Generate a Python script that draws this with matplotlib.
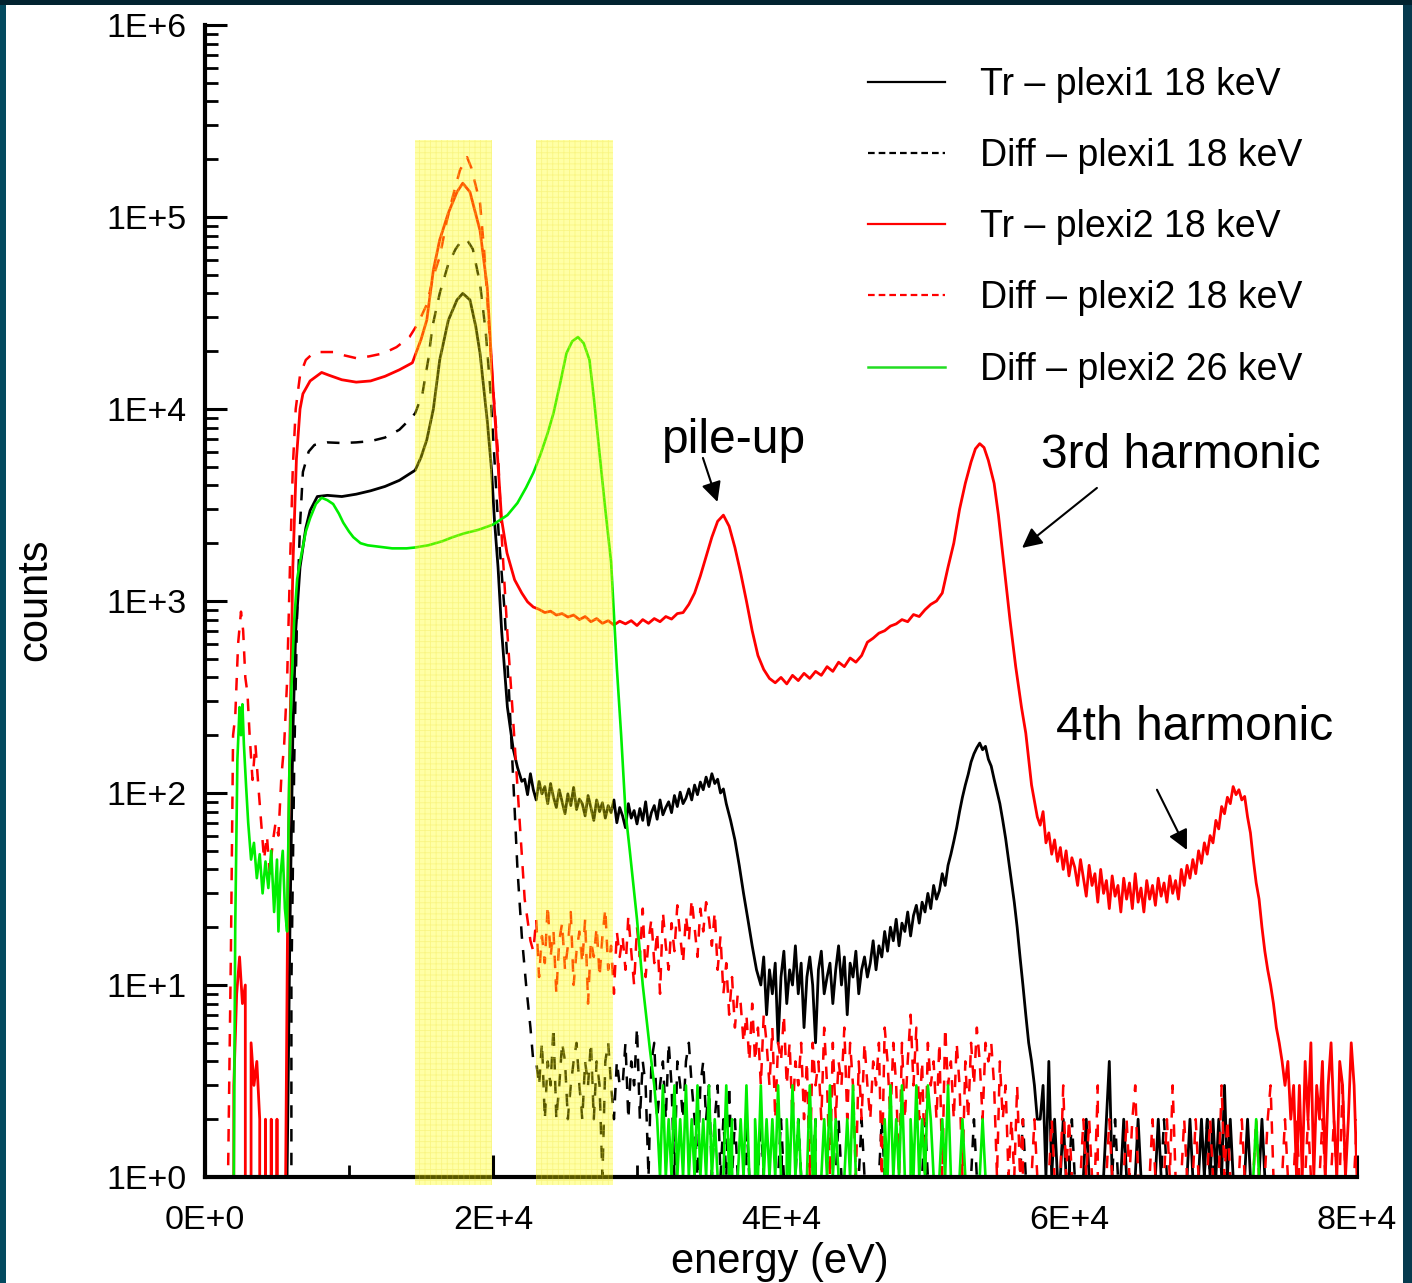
import numpy as np
import matplotlib
matplotlib.use("Agg")
import matplotlib.pyplot as plt
from matplotlib.lines import Line2D
from matplotlib.patches import Rectangle
from matplotlib.ticker import FixedLocator, FuncFormatter, LogLocator, NullFormatter

# ------------------------------------------------------------------
# Data (energy in keV, counts per channel)
# ------------------------------------------------------------------
# Tr - plexi1 18 keV (black solid)
tr1_peak_kev = [0.0, 5.6, 5.7, 5.9, 6.1, 6.3, 6.6, 7.0, 7.3, 7.8, 8.5, 9.5, 10.5, 11.5, 12.5,
                13.5, 14.6, 15.0, 15.4, 15.86, 16.3, 16.9, 17.5, 17.9, 18.4, 18.8, 19.1, 19.6,
                19.9, 20.1, 20.35, 20.6, 21.0, 21.4, 21.7, 22.0]
tr1_peak_cnt = [0, 0, 1, 20, 200, 700, 1500, 2400, 2960, 3500, 3550, 3500, 3600, 3750, 3950,
                4250, 4800, 5600, 6900, 10000, 18000, 29000, 37000, 40000, 37000, 27000, 19500, 8700,
                4800, 2650, 1500, 700, 280, 170, 136, 115]
tr1_flat_cnt = [118, 98, 126, 104, 92, 115, 99, 108, 88, 112,
                95, 84, 104, 90, 78, 99, 86, 107, 82, 93,
                88, 76, 97, 84, 72, 92, 80, 89, 74, 86,
                79, 92, 70, 84, 76, 66, 88, 74, 81, 69,
                83, 72, 90, 68, 79, 86, 73, 92, 77, 84,
                90, 79, 97, 85, 101, 88, 94, 105, 92, 110,
                98, 114, 104, 121, 108, 126, 112, 118, 100, 105]          # 22.2 .. 36.0 keV
tr1_drop_kev = [36.2, 36.5, 36.8, 37.1, 37.4, 37.7, 38.0, 38.3, 38.6]
tr1_drop_cnt = [88, 72, 57, 42, 30, 22, 16, 12, 10]
tr1_valley_cnt = [14, 7, 12, 9, 13, 5, 11, 15, 8, 12, 10, 16, 9, 13, 6, 11, 14, 10, 5, 12,
                  15, 9, 11, 13, 8, 12, 16, 10, 14, 7, 13, 11, 15, 9, 12, 14, 11]   # 38.8 .. 46.0
tr1_h3_cnt = [13, 17, 12, 16, 14, 19, 15, 20, 17, 22, 16, 21, 19, 24, 18, 23, 26, 21, 27, 24,
              30, 25, 33, 28, 31, 38, 33, 42, 48, 56, 66, 80, 95, 110, 125, 145, 160, 172, 182, 168,
              175, 150, 138, 118, 102, 88, 72, 58, 45, 35, 27, 20, 14, 10, 7, 5, 4, 3, 2]  # 46.2 .. 57.8
tr1_tail = ("2314121121" "1011112110" "1112411112" "1101211111" "1211101111" "1121112121"
            "2121312111" "1121111211" "1101111011" "1111011111" "11011111101")      # 58.0 .. 80.0

# Diff - plexi1 18 keV (black dashed)
dif1_peak_kev = [0.0, 5.8, 6.0, 6.2, 6.4, 6.6, 6.8, 7.2, 7.6, 8.5, 9.5, 10.5, 11.5, 12.5, 13.5,
                 14.0, 14.6, 15.1, 15.5, 15.8, 16.3, 16.9, 17.4, 17.8, 18.2, 18.6, 19.1, 19.5, 19.8,
                 20.1, 20.4, 20.8, 21.1, 21.4, 21.7, 22.0, 22.3, 22.6, 22.8]
dif1_peak_cnt = [0, 0, 10, 150, 900, 2500, 4700, 6000, 6500, 6700, 6650, 6700, 6800, 7100, 7800,
                 8500, 9500, 12000, 18000, 27000, 40000, 57000, 68000, 75000, 76000, 68000, 45000, 25000, 13000,
                 5500, 2200, 900, 350, 120, 40, 18, 10, 6, 4]
dif1_tail = ("4352436235" "4234532435" "2431453243" "3524362431" "4523425314" "3245321342"
             "3123121312" "1"
             "1021101211" "1011210111" "2101112011" "1101211101" "1121011012" "1011101111"
             "0111211011" "1101111011" "1210111011" "1111011121" "0111101111" "1011121011"
             "1101110111" "2111011101" "1111011211" "1011110111" "1121101111" "0111101111"
             "1101111011" "1111101111" "1011111011" "11111")                           # 23.0 .. 80.0

# Tr - plexi2 18 keV (red solid)
tr2_low_cnt = [0, 0, 0, 3, 9, 14, 8, 10, 0, 5, 3, 4, 2, 0, 2, 0, 2, 0, 2, 0, 0]          # 1.4 .. 5.4
tr2_peak_kev = [5.6, 5.75, 5.9, 6.1, 6.35, 6.6, 6.8, 7.3, 8.1, 8.6, 9.5, 10.5, 11.5, 12.5, 13.5,
                14.4, 15.0, 15.4, 15.86, 16.3, 16.9, 17.5, 17.9, 18.4, 19.1, 19.6, 19.8, 20.0,
                20.3, 20.6, 20.97, 21.5]
tr2_peak_cnt = [1, 30, 200, 1500, 5500, 10000, 12000, 14000, 15500, 15000, 14200, 13800, 14000, 14800, 16000,
                17400, 23000, 29000, 53000, 76000, 105000, 135000, 150000, 135000, 85000, 43000, 23700, 13000,
                5900, 2650, 1780, 1290]
tr2_mid_cnt = [1100, 990, 930, 905, 870, 885, 845, 860, 825, 845,
               800, 830, 780, 810, 765, 790, 750, 785, 760, 790,
               745, 800, 765, 810, 780, 830, 805, 860, 870, 960,
               1100, 1350, 1700, 2150, 2600, 2800, 2450, 1900, 1400, 1000,
               700, 520, 440, 395, 375, 400, 370, 410, 385, 420,
               395, 430, 410, 455, 430, 480, 455, 505, 480, 520,
               610, 640, 680, 700, 740, 760, 800, 780, 850, 830,
               900, 960, 1000, 1100, 1500, 2000, 3000]                                  # 22.0 .. 52.4, 0.4 step
tr2_h3_kev = [52.8, 53.2, 53.5, 53.8, 54.1, 54.4, 54.8, 55.1, 55.5, 55.9, 56.3, 56.7, 57.0, 57.4]
tr2_h3_cnt = [4100, 5300, 6200, 6600, 6300, 5400, 4100, 2800, 1500, 800, 455, 280, 205, 110]
tr2_tail_cnt = [75, 68, 80, 55, 62, 48, 57, 44, 52, 40,
                50, 37, 46, 41, 33, 45, 36, 29, 42, 33,
                38, 27, 40, 30, 35, 25, 37, 29, 33, 24,
                36, 28, 34, 25, 38, 27, 32, 24, 35, 28,
                33, 26, 36, 29, 34, 27, 37, 30, 35, 28,
                40, 33, 42, 36, 45, 38, 50, 43, 55, 48,
                60, 55, 72, 65, 85, 78, 95, 88, 108, 98,
                104, 92, 96, 75, 62, 45, 34, 28, 20, 15,
                12, 10, 8, 6, 5, 4, 3, 4, 2, 3,
                1, 3, 1, 4, 2, 5, 1, 3, 2, 4,
                1, 3, 5, 2, 1, 4, 3, 1, 2, 5, 3, 1]                                     # 57.8 .. 80.0

# Diff - plexi2 18 keV (red dashed)
dif2_peak_kev = [1.4, 1.6, 1.8, 1.95, 2.1, 2.3, 2.5, 2.65, 2.8, 2.95, 3.1, 3.3, 3.5, 3.7, 3.9,
                 4.1, 4.3, 4.5, 4.7, 4.9, 5.1, 5.3, 5.5, 5.7, 5.9, 6.1, 6.3, 6.6, 7.0, 7.5,
                 8.0, 8.9, 9.7, 10.5, 11.4, 12.4, 13.3, 14.2, 14.8, 15.4, 15.86, 16.3, 16.8, 17.2,
                 17.7, 18.2, 18.5, 19.1, 19.4, 19.6, 20.0, 20.35, 20.6, 21.0, 21.4, 21.9, 22.2, 22.6]
dif2_peak_cnt = [0, 1, 15, 200, 250, 600, 880, 700, 400, 330, 200, 117, 180, 110, 70,
                 45, 60, 38, 55, 70, 60, 120, 180, 380, 1500, 5000, 10000, 15000, 18000, 19500,
                 19800, 19800, 19000, 18400, 18800, 19500, 21000, 23700, 28000, 35000, 49000, 62000, 96000, 127000,
                 175000, 205000, 180000, 118000, 65000, 37000, 13000, 5900, 2200, 680, 240, 62, 28, 17]
dif2_band_cnt = [15, 22, 11, 18, 13, 26, 14, 19, 9, 17, 21, 12, 16, 24, 10, 15, 19, 13, 22, 8,
                 17, 14, 20, 11, 18, 25, 12, 16, 9, 19, 14,
                 18, 12, 23, 15, 10, 20, 14, 25, 11, 17, 22, 13, 19, 9, 24, 16, 12, 21, 15,
                 26, 18, 13, 23, 17, 28, 20, 14, 25, 19, 27, 22, 16, 24, 12, 18, 9, 13, 7, 11, 6, 9]  # 22.8 .. 37.0
dif2_tail = ("85748463753625473524"
             "3524153426315243625314253"
             "24351642531524736241534251634253142"
             "5364254531423121312011210"
             "1012111312" "1011212113" "0112111012" "1231011121" "0112131012" "1112110121"
             "1131210112" "1101211123" "1011210121" "1121011210" "1211310112")          # 37.2 .. 80.0

# Diff - plexi2 26 keV (green solid)
g26_peak_kev = [1.8, 2.0, 2.1, 2.25, 2.4, 2.5, 2.6, 2.7, 2.85, 3.0, 3.2, 3.4, 3.6, 3.8, 4.0,
                4.2, 4.4, 4.6, 4.8, 5.0, 5.1, 5.25, 5.4, 5.55, 5.7, 5.85, 6.0, 6.2, 6.4, 6.6,
                7.0, 7.3, 7.7, 8.1, 8.5, 8.9, 9.3, 9.6, 10.0, 10.3, 10.8, 11.3, 12.0, 13.0, 14.0,
                14.6, 15.5, 16.5, 17.2, 18.0, 19.0, 20.0, 21.0, 21.7, 22.3, 22.8, 23.3, 23.8, 24.2,
                24.7, 25.1, 25.5, 25.9, 26.3, 26.7, 27.0, 27.4, 27.8, 28.2, 28.6, 28.9, 29.2, 29.5,
                30.0, 30.4, 30.9]
g26_peak_cnt = [0, 1, 20, 150, 280, 200, 290, 180, 110, 70, 45, 55, 36, 48, 30,
                44, 32, 50, 24, 45, 19, 38, 50, 25, 19, 120, 350, 800, 1300, 1600,
                2300, 2700, 3200, 3450, 3350, 3200, 2850, 2560, 2300, 2150, 2000, 1950, 1920, 1880, 1880,
                1900, 1950, 2050, 2150, 2250, 2350, 2500, 2800, 3240, 3900, 4650, 5800, 7500, 9500,
                14000, 19500, 22500, 23700, 22000, 18000, 11500, 5900, 3000, 1600, 450, 200, 80, 50,
                22, 10, 4.6]
g26_tail = ("3213121312" "1312131213" "1210131201" "2131021312" "1213102131" "2101312012"
            "1312101213" "1011101110" "2131213102" "1312132101" "2131011211" "1011210111"
            "0111011110" "1101111011" "1110111101" "1111011111" "0111111011" "1111101111"
            "1011111101" "1111111011" "1110111112" "1111011111" "1111111011" "1111111111"
            "11111")                                                                      # 31.2 .. 80.0

legend_labels = ["Tr \u2013 plexi1 18 keV", "Diff \u2013 plexi1 18 keV", "Tr \u2013 plexi2 18 keV",
                 "Diff \u2013 plexi2 18 keV", "Diff \u2013 plexi2 26 keV"]
bands_kev = [(14.6, 19.9), (23.0, 28.3)]


def run(start, step, values):
    return [start + step * i for i in range(len(values))], list(values)


def digits(s):
    return [int(ch) for ch in s]


def join(*parts):
    e, c = [], []
    for pe, pc in parts:
        e += list(pe)
        c += list(pc)
    return np.array(e) * 1000.0, np.array(c, dtype=float)


tr1 = join((tr1_peak_kev, tr1_peak_cnt), run(22.2, 0.2, tr1_flat_cnt), (tr1_drop_kev, tr1_drop_cnt),
           run(38.8, 0.2, tr1_valley_cnt), run(46.2, 0.2, tr1_h3_cnt), run(58.0, 0.2, digits(tr1_tail)))
dif1 = join((dif1_peak_kev, dif1_peak_cnt), run(23.0, 0.2, digits(dif1_tail)))
tr2 = join(run(1.4, 0.2, tr2_low_cnt), (tr2_peak_kev, tr2_peak_cnt), run(22.0, 0.4, tr2_mid_cnt),
           (tr2_h3_kev, tr2_h3_cnt), run(57.8, 0.2, tr2_tail_cnt))
dif2 = join((dif2_peak_kev, dif2_peak_cnt), run(22.8, 0.2, dif2_band_cnt), run(37.2, 0.2, digits(dif2_tail)))
g26 = join((g26_peak_kev, g26_peak_cnt), run(31.2, 0.2, digits(g26_tail)))

# ------------------------------------------------------------------
# Plot
# ------------------------------------------------------------------
plt.rcParams['font.family'] = ['Liberation Sans', 'DejaVu Sans']
plt.rcParams['hatch.linewidth'] = 0.6

fig = plt.figure(figsize=(14.12, 12.83), dpi=100)
ax = fig.add_axes([0.14518, 0.08262, 0.81586, 0.89790])
ax.set_yscale('log', nonpositive='clip')

dash = (5, 4.5)
ax.plot(*tr1, color='black', lw=2.0, zorder=2.0)
ax.plot(*dif1, color='black', lw=1.8, ls='--', dashes=dash, zorder=2.1)
ax.plot(*tr2, color='#ff0000', lw=2.0, zorder=2.2)
ax.plot(*dif2, color='#ff0000', lw=1.8, ls='--', dashes=dash, zorder=2.3)
ax.plot(*g26, color='#00ee00', lw=1.9, zorder=2.4)

for lo, hi in bands_kev:
    ax.add_patch(Rectangle((lo * 1000, 0.908), (hi - lo) * 1000, 2.52e5 - 0.908,
                           facecolor=(1, 1, 0, 0.35), edgecolor=(0.93, 0.88, 0.2, 0.3),
                           lw=0, hatch='+++', zorder=4, clip_on=False))

ax.set_xlim(0, 80000)
ax.set_ylim(1, 1e6)

ax.xaxis.set_major_locator(FixedLocator([0, 20000, 40000, 60000, 80000]))
ax.xaxis.set_minor_locator(FixedLocator([10000, 30000, 50000, 70000]))
ax.xaxis.set_major_formatter(FuncFormatter(lambda v, p: '0E+0' if v == 0 else f'{int(v / 1e4)}E+4'))
ax.yaxis.set_major_locator(LogLocator(base=10, numticks=10))
ax.yaxis.set_minor_locator(LogLocator(base=10, subs=np.arange(2, 10), numticks=20))
ax.yaxis.set_minor_formatter(NullFormatter())
ax.yaxis.set_major_formatter(FuncFormatter(lambda v, p: f'1E+{int(round(np.log10(v)))}'))

ax.tick_params(which='major', direction='in', length=16, width=2.2, labelsize=24.5)
ax.tick_params(which='minor', direction='in', length=9, width=2)
ax.tick_params(axis='y', which='major', pad=13)
ax.tick_params(axis='x', which='major', pad=20)
for side in ('top', 'right'):
    ax.spines[side].set_visible(False)
for side in ('left', 'bottom'):
    ax.spines[side].set_linewidth(3)

fig.text(35 / 1412, 1 - 600 / 1283, 'counts', rotation=90, ha='center', va='center', fontsize=30)
fig.text(780 / 1412, 1 - 1273 / 1283, 'energy (eV)', ha='center', va='baseline', fontsize=30)

# legend handles: short dashes as in the original key
handles = [Line2D([], [], color='black', lw=1.6),
           Line2D([], [], color='black', lw=1.6, ls='--', dashes=(3, 1.8)),
           Line2D([], [], color='#ff0000', lw=1.6),
           Line2D([], [], color='#ff0000', lw=1.6, ls='--', dashes=(3, 1.8)),
           Line2D([], [], color='#22dd22', lw=1.8)]
ax.legend(handles, legend_labels, loc='upper left', bbox_to_anchor=(0.5755, 0.9638), frameon=False,
          fontsize=27, handlelength=2.05, handletextpad=0.93, labelspacing=0.94, borderpad=0,
          borderaxespad=0)

# annotations
arrow = dict(arrowstyle='-|>,head_length=0.6,head_width=0.3', mutation_scale=20,
             lw=1.5, color='black', shrinkA=0, shrinkB=0)
ax.text(36740, 5900, 'pile-up', ha='center', va='baseline', fontsize=34.5)
ax.annotate('', xy=(35590, 3280), xytext=(34580, 5560), arrowprops=arrow)
ax.text(67780, 4930, '3rd harmonic', ha='center', va='baseline', fontsize=34.5)
ax.annotate('', xy=(56740, 1890), xytext=(61940, 3880), arrowprops=arrow)
ax.text(68700, 189, '4th harmonic', ha='center', va='baseline', fontsize=34.5)
ax.annotate('', xy=(68190, 50.5), xytext=(66110, 104), arrowprops=arrow)

# dark slide frame around the chart
fig.patches.append(Rectangle((0, 0), 6 / 1412, 1, transform=fig.transFigure,
                             facecolor='#034a5f', edgecolor='none', zorder=10))
fig.patches.append(Rectangle((1 - 9 / 1412, 0), 9 / 1412, 1, transform=fig.transFigure,
                             facecolor='#063a4e', edgecolor='none', zorder=10))
fig.patches.append(Rectangle((0, 1 - 5 / 1283), 1, 5 / 1283, transform=fig.transFigure,
                             facecolor='#022330', edgecolor='none', zorder=10))

fig.savefig('out.png', dpi=100)
